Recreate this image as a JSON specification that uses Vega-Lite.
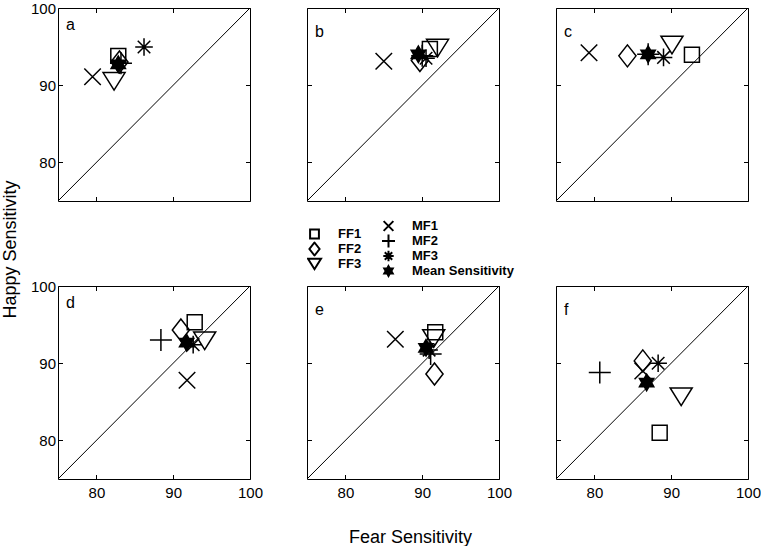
{
  "$schema": "https://vega.github.io/schema/vega-lite/v6.json",
  "padding": {"left": 1, "top": 1, "right": 0, "bottom": 0},
  "data": {"values": [
    {"panel": "a", "group": "FF", "series": "FF1", "fear": 82.85, "happy": 93.8},
    {"panel": "a", "group": "FF", "series": "FF2", "fear": 83.0, "happy": 93.0},
    {"panel": "a", "group": "FF", "series": "FF3", "fear": 82.3, "happy": 90.5},
    {"panel": "a", "group": "MF", "series": "MF1", "fear": 79.5, "happy": 91.1},
    {"panel": "a", "group": "MF", "series": "MF2", "fear": 83.2, "happy": 92.85},
    {"panel": "a", "group": "MF", "series": "MF3", "fear": 86.2, "happy": 94.95},
    {"panel": "a", "group": "MF", "series": "Mean Sensitivity", "fear": 82.85, "happy": 92.7},
    {"panel": "b", "group": "FF", "series": "FF1", "fear": 91.0, "happy": 94.7},
    {"panel": "b", "group": "FF", "series": "FF2", "fear": 89.7, "happy": 93.2},
    {"panel": "b", "group": "FF", "series": "FF3", "fear": 92.0, "happy": 94.8},
    {"panel": "b", "group": "MF", "series": "MF1", "fear": 85.0, "happy": 93.1},
    {"panel": "b", "group": "MF", "series": "MF2", "fear": 90.0, "happy": 93.8},
    {"panel": "b", "group": "MF", "series": "MF3", "fear": 90.5, "happy": 93.5},
    {"panel": "b", "group": "MF", "series": "Mean Sensitivity", "fear": 89.5, "happy": 94.0},
    {"panel": "c", "group": "FF", "series": "FF1", "fear": 92.7, "happy": 93.95},
    {"panel": "c", "group": "FF", "series": "FF2", "fear": 84.3, "happy": 93.8},
    {"panel": "c", "group": "FF", "series": "FF3", "fear": 90.1, "happy": 95.2},
    {"panel": "c", "group": "MF", "series": "MF1", "fear": 79.3, "happy": 94.2},
    {"panel": "c", "group": "MF", "series": "MF2", "fear": 87.0, "happy": 94.0},
    {"panel": "c", "group": "MF", "series": "MF3", "fear": 89.0, "happy": 93.6},
    {"panel": "c", "group": "MF", "series": "Mean Sensitivity", "fear": 87.0, "happy": 94.0},
    {"panel": "d", "group": "FF", "series": "FF1", "fear": 92.8, "happy": 95.3},
    {"panel": "d", "group": "FF", "series": "FF2", "fear": 91.0, "happy": 94.3},
    {"panel": "d", "group": "FF", "series": "FF3", "fear": 94.1, "happy": 92.9},
    {"panel": "d", "group": "MF", "series": "MF1", "fear": 91.8, "happy": 87.8},
    {"panel": "d", "group": "MF", "series": "MF2", "fear": 88.4, "happy": 93.0},
    {"panel": "d", "group": "MF", "series": "MF3", "fear": 92.6, "happy": 92.4},
    {"panel": "d", "group": "MF", "series": "Mean Sensitivity", "fear": 91.75, "happy": 92.65},
    {"panel": "e", "group": "FF", "series": "FF1", "fear": 91.7, "happy": 94.0},
    {"panel": "e", "group": "FF", "series": "FF2", "fear": 91.6, "happy": 88.6},
    {"panel": "e", "group": "FF", "series": "FF3", "fear": 91.5, "happy": 93.2},
    {"panel": "e", "group": "MF", "series": "MF1", "fear": 86.5, "happy": 93.1},
    {"panel": "e", "group": "MF", "series": "MF2", "fear": 91.1, "happy": 91.2},
    {"panel": "e", "group": "MF", "series": "MF3", "fear": 90.9, "happy": 91.7},
    {"panel": "e", "group": "MF", "series": "Mean Sensitivity", "fear": 90.5, "happy": 92.0},
    {"panel": "f", "group": "FF", "series": "FF1", "fear": 88.5, "happy": 81.0},
    {"panel": "f", "group": "FF", "series": "FF2", "fear": 86.3, "happy": 90.3},
    {"panel": "f", "group": "FF", "series": "FF3", "fear": 91.3, "happy": 85.65},
    {"panel": "f", "group": "MF", "series": "MF1", "fear": 86.3, "happy": 89.0},
    {"panel": "f", "group": "MF", "series": "MF2", "fear": 80.7, "happy": 88.8},
    {"panel": "f", "group": "MF", "series": "MF3", "fear": 88.3, "happy": 90.0},
    {"panel": "f", "group": "MF", "series": "Mean Sensitivity", "fear": 86.8, "happy": 87.5}
  ]},
  "columns": 3,
  "spacing": {"row": 85, "column": 57},
  "bounds": "flush",
  "resolve": {"scale": {"shape": "independent", "fill": "independent"}},
  "concat": [
    {
      "title": {"text": "a"}, "width": 192, "height": 193,
      "resolve": {"scale": {"shape": "independent", "fill": "independent"}},
      "layer": [
        {"transform": [{"filter": "datum.panel == 'a' && datum.series == 'Mean Sensitivity'"}],
         "mark": {"type": "rule", "stroke": "black", "strokeWidth": 1},
         "encoding": {
           "x": {"datum": 75, "type": "quantitative", "scale": {"domain": [75, 100], "nice": false, "zero": false}, "axis": {"orient": "top", "labels": false, "title": null}},
           "y": {"datum": 75, "type": "quantitative", "scale": {"domain": [75, 100], "nice": false, "zero": false}, "axis": {"orient": "right", "labels": false, "title": null}},
           "x2": {"datum": 100}, "y2": {"datum": 100}}},
        {"transform": [{"filter": "datum.panel == 'a' && datum.group == 'FF'"}],
         "mark": {"type": "point", "filled": false, "stroke": "black", "strokeWidth": 1.5, "size": 484, "opacity": 1},
         "encoding": {
           "x": {"field": "fear", "type": "quantitative", "axis": {"orient": "bottom", "labels": false, "title": null}},
           "y": {"field": "happy", "type": "quantitative", "axis": {"orient": "left", "title": "Happy Sensitivity", "titleX": -43, "titleY": 241, "titleBaseline": "alphabetic", "titleAngle": -90}},
           "shape": {"field": "series", "type": "nominal", "scale": {"domain": ["FF1", "FF2", "FF3"], "range": ["M-0.68,-0.68L0.68,-0.68L0.68,0.68L-0.68,0.68Z", "M0,-1L0.78,0L0,1L-0.78,0Z", "M-1,-0.8L1,-0.8L0,0.8Z"]}, "legend": null}}},
        {"transform": [{"filter": "datum.panel == 'a' && datum.group == 'MF'"}],
         "mark": {"type": "point", "filled": false, "stroke": "black", "strokeWidth": 1.5, "size": 484, "opacity": 1},
         "encoding": {
           "x": {"field": "fear", "type": "quantitative", "axis": null},
           "y": {"field": "happy", "type": "quantitative", "axis": null},
           "shape": {"field": "series", "type": "nominal", "scale": {"domain": ["MF1", "MF2", "MF3", "Mean Sensitivity"], "range": ["M-0.75,-0.75L0.75,0.75M-0.75,0.75L0.75,-0.75", "M-1,0L1,0M0,-1L0,1", "M-0.8,0L0.8,0M0,-0.8L0,0.8M-0.57,-0.57L0.57,0.57M-0.57,0.57L0.57,-0.57", "M0,-0.75L0.2165,-0.375L0.65,-0.375L0.433,0L0.65,0.375L0.2165,0.375L0,0.75L-0.2165,0.375L-0.65,0.375L-0.433,0L-0.65,-0.375L-0.2165,-0.375Z"]}, "legend": null},
           "fill": {"field": "series", "type": "nominal", "scale": {"domain": ["MF1", "MF2", "MF3", "Mean Sensitivity"], "range": ["transparent", "transparent", "transparent", "black"]}, "legend": null}}}
      ]
    },
    {
      "title": {"text": "b"}, "width": 192, "height": 193,
      "resolve": {"scale": {"shape": "independent", "fill": "independent"}},
      "layer": [
        {"transform": [{"filter": "datum.panel == 'b' && datum.series == 'Mean Sensitivity'"}],
         "mark": {"type": "rule", "stroke": "black", "strokeWidth": 1},
         "encoding": {
           "x": {"datum": 75, "type": "quantitative", "scale": {"domain": [75, 100], "nice": false, "zero": false}, "axis": {"orient": "top", "labels": false, "title": null}},
           "y": {"datum": 75, "type": "quantitative", "scale": {"domain": [75, 100], "nice": false, "zero": false}, "axis": {"orient": "right", "labels": false, "title": null}},
           "x2": {"datum": 100}, "y2": {"datum": 100}}},
        {"transform": [{"filter": "datum.panel == 'b' && datum.group == 'FF'"}],
         "mark": {"type": "point", "filled": false, "stroke": "black", "strokeWidth": 1.5, "size": 484, "opacity": 1},
         "encoding": {
           "x": {"field": "fear", "type": "quantitative", "axis": {"orient": "bottom", "labels": false, "title": null}},
           "y": {"field": "happy", "type": "quantitative", "axis": {"orient": "left", "labels": false, "title": null}},
           "shape": {"field": "series", "type": "nominal", "scale": {"domain": ["FF1", "FF2", "FF3"], "range": ["M-0.68,-0.68L0.68,-0.68L0.68,0.68L-0.68,0.68Z", "M0,-1L0.78,0L0,1L-0.78,0Z", "M-1,-0.8L1,-0.8L0,0.8Z"]}, "legend": {"orient": "none", "legendX": 0, "legendY": 218.5, "title": null, "symbolSize": 169, "rowPadding": 0, "clipHeight": 15, "labelFontWeight": "bold", "encoding": {"symbols": {"size": {"value": 169}, "stroke": {"value": "black"}, "strokeWidth": {"value": 2}}}}}}},
        {"transform": [{"filter": "datum.panel == 'b' && datum.group == 'MF'"}],
         "mark": {"type": "point", "filled": false, "stroke": "black", "strokeWidth": 1.5, "size": 484, "opacity": 1},
         "encoding": {
           "x": {"field": "fear", "type": "quantitative", "axis": null},
           "y": {"field": "happy", "type": "quantitative", "axis": null},
           "shape": {"field": "series", "type": "nominal", "scale": {"domain": ["MF1", "MF2", "MF3", "Mean Sensitivity"], "range": ["M-0.75,-0.75L0.75,0.75M-0.75,0.75L0.75,-0.75", "M-1,0L1,0M0,-1L0,1", "M-0.8,0L0.8,0M0,-0.8L0,0.8M-0.57,-0.57L0.57,0.57M-0.57,0.57L0.57,-0.57", "M0,-0.75L0.2165,-0.375L0.65,-0.375L0.433,0L0.65,0.375L0.2165,0.375L0,0.75L-0.2165,0.375L-0.65,0.375L-0.433,0L-0.65,-0.375L-0.2165,-0.375Z"]}, "legend": {"orient": "none", "legendX": 74, "legendY": 210.5, "title": null, "symbolSize": 169, "rowPadding": 0, "clipHeight": 15, "labelFontWeight": "bold", "encoding": {"symbols": {"size": {"value": 169}, "stroke": {"value": "black"}, "strokeWidth": {"value": 2}}}}},
           "fill": {"field": "series", "type": "nominal", "scale": {"domain": ["MF1", "MF2", "MF3", "Mean Sensitivity"], "range": ["transparent", "transparent", "transparent", "black"]}, "legend": {"orient": "none", "legendX": 74, "legendY": 210.5, "title": null, "symbolSize": 169, "rowPadding": 0, "clipHeight": 15, "labelFontWeight": "bold", "encoding": {"symbols": {"size": {"value": 169}, "stroke": {"value": "black"}, "strokeWidth": {"value": 2}}}}}}}
      ]
    },
    {
      "title": {"text": "c"}, "width": 192, "height": 193,
      "resolve": {"scale": {"shape": "independent", "fill": "independent"}},
      "layer": [
        {"transform": [{"filter": "datum.panel == 'c' && datum.series == 'Mean Sensitivity'"}],
         "mark": {"type": "rule", "stroke": "black", "strokeWidth": 1},
         "encoding": {
           "x": {"datum": 75, "type": "quantitative", "scale": {"domain": [75, 100], "nice": false, "zero": false}, "axis": {"orient": "top", "labels": false, "title": null}},
           "y": {"datum": 75, "type": "quantitative", "scale": {"domain": [75, 100], "nice": false, "zero": false}, "axis": {"orient": "right", "labels": false, "title": null}},
           "x2": {"datum": 100}, "y2": {"datum": 100}}},
        {"transform": [{"filter": "datum.panel == 'c' && datum.group == 'FF'"}],
         "mark": {"type": "point", "filled": false, "stroke": "black", "strokeWidth": 1.5, "size": 484, "opacity": 1},
         "encoding": {
           "x": {"field": "fear", "type": "quantitative", "axis": {"orient": "bottom", "labels": false, "title": null}},
           "y": {"field": "happy", "type": "quantitative", "axis": {"orient": "left", "labels": false, "title": null}},
           "shape": {"field": "series", "type": "nominal", "scale": {"domain": ["FF1", "FF2", "FF3"], "range": ["M-0.68,-0.68L0.68,-0.68L0.68,0.68L-0.68,0.68Z", "M0,-1L0.78,0L0,1L-0.78,0Z", "M-1,-0.8L1,-0.8L0,0.8Z"]}, "legend": null}}},
        {"transform": [{"filter": "datum.panel == 'c' && datum.group == 'MF'"}],
         "mark": {"type": "point", "filled": false, "stroke": "black", "strokeWidth": 1.5, "size": 484, "opacity": 1},
         "encoding": {
           "x": {"field": "fear", "type": "quantitative", "axis": null},
           "y": {"field": "happy", "type": "quantitative", "axis": null},
           "shape": {"field": "series", "type": "nominal", "scale": {"domain": ["MF1", "MF2", "MF3", "Mean Sensitivity"], "range": ["M-0.75,-0.75L0.75,0.75M-0.75,0.75L0.75,-0.75", "M-1,0L1,0M0,-1L0,1", "M-0.8,0L0.8,0M0,-0.8L0,0.8M-0.57,-0.57L0.57,0.57M-0.57,0.57L0.57,-0.57", "M0,-0.75L0.2165,-0.375L0.65,-0.375L0.433,0L0.65,0.375L0.2165,0.375L0,0.75L-0.2165,0.375L-0.65,0.375L-0.433,0L-0.65,-0.375L-0.2165,-0.375Z"]}, "legend": null},
           "fill": {"field": "series", "type": "nominal", "scale": {"domain": ["MF1", "MF2", "MF3", "Mean Sensitivity"], "range": ["transparent", "transparent", "transparent", "black"]}, "legend": null}}}
      ]
    },
    {
      "title": {"text": "d"}, "width": 192, "height": 193,
      "resolve": {"scale": {"shape": "independent", "fill": "independent"}},
      "layer": [
        {"transform": [{"filter": "datum.panel == 'd' && datum.series == 'Mean Sensitivity'"}],
         "mark": {"type": "rule", "stroke": "black", "strokeWidth": 1},
         "encoding": {
           "x": {"datum": 75, "type": "quantitative", "scale": {"domain": [75, 100], "nice": false, "zero": false}, "axis": {"orient": "top", "labels": false, "title": null}},
           "y": {"datum": 75, "type": "quantitative", "scale": {"domain": [75, 100], "nice": false, "zero": false}, "axis": {"orient": "right", "labels": false, "title": null}},
           "x2": {"datum": 100}, "y2": {"datum": 100}}},
        {"transform": [{"filter": "datum.panel == 'd' && datum.group == 'FF'"}],
         "mark": {"type": "point", "filled": false, "stroke": "black", "strokeWidth": 1.5, "size": 484, "opacity": 1},
         "encoding": {
           "x": {"field": "fear", "type": "quantitative", "axis": {"orient": "bottom", "title": null}},
           "y": {"field": "happy", "type": "quantitative", "axis": {"orient": "left", "title": null}},
           "shape": {"field": "series", "type": "nominal", "scale": {"domain": ["FF1", "FF2", "FF3"], "range": ["M-0.68,-0.68L0.68,-0.68L0.68,0.68L-0.68,0.68Z", "M0,-1L0.78,0L0,1L-0.78,0Z", "M-1,-0.8L1,-0.8L0,0.8Z"]}, "legend": null}}},
        {"transform": [{"filter": "datum.panel == 'd' && datum.group == 'MF'"}],
         "mark": {"type": "point", "filled": false, "stroke": "black", "strokeWidth": 1.5, "size": 484, "opacity": 1},
         "encoding": {
           "x": {"field": "fear", "type": "quantitative", "axis": null},
           "y": {"field": "happy", "type": "quantitative", "axis": null},
           "shape": {"field": "series", "type": "nominal", "scale": {"domain": ["MF1", "MF2", "MF3", "Mean Sensitivity"], "range": ["M-0.75,-0.75L0.75,0.75M-0.75,0.75L0.75,-0.75", "M-1,0L1,0M0,-1L0,1", "M-0.8,0L0.8,0M0,-0.8L0,0.8M-0.57,-0.57L0.57,0.57M-0.57,0.57L0.57,-0.57", "M0,-0.75L0.2165,-0.375L0.65,-0.375L0.433,0L0.65,0.375L0.2165,0.375L0,0.75L-0.2165,0.375L-0.65,0.375L-0.433,0L-0.65,-0.375L-0.2165,-0.375Z"]}, "legend": null},
           "fill": {"field": "series", "type": "nominal", "scale": {"domain": ["MF1", "MF2", "MF3", "Mean Sensitivity"], "range": ["transparent", "transparent", "transparent", "black"]}, "legend": null}}}
      ]
    },
    {
      "title": {"text": "e"}, "width": 192, "height": 193,
      "resolve": {"scale": {"shape": "independent", "fill": "independent"}},
      "layer": [
        {"transform": [{"filter": "datum.panel == 'e' && datum.series == 'Mean Sensitivity'"}],
         "mark": {"type": "rule", "stroke": "black", "strokeWidth": 1},
         "encoding": {
           "x": {"datum": 75, "type": "quantitative", "scale": {"domain": [75, 100], "nice": false, "zero": false}, "axis": {"orient": "top", "labels": false, "title": null}},
           "y": {"datum": 75, "type": "quantitative", "scale": {"domain": [75, 100], "nice": false, "zero": false}, "axis": {"orient": "right", "labels": false, "title": null}},
           "x2": {"datum": 100}, "y2": {"datum": 100}}},
        {"transform": [{"filter": "datum.panel == 'e' && datum.group == 'FF'"}],
         "mark": {"type": "point", "filled": false, "stroke": "black", "strokeWidth": 1.5, "size": 484, "opacity": 1},
         "encoding": {
           "x": {"field": "fear", "type": "quantitative", "axis": {"orient": "bottom", "title": "Fear Sensitivity", "titleX": 103, "titleY": 63.5, "titleBaseline": "alphabetic"}},
           "y": {"field": "happy", "type": "quantitative", "axis": {"orient": "left", "labels": false, "title": null}},
           "shape": {"field": "series", "type": "nominal", "scale": {"domain": ["FF1", "FF2", "FF3"], "range": ["M-0.68,-0.68L0.68,-0.68L0.68,0.68L-0.68,0.68Z", "M0,-1L0.78,0L0,1L-0.78,0Z", "M-1,-0.8L1,-0.8L0,0.8Z"]}, "legend": null}}},
        {"transform": [{"filter": "datum.panel == 'e' && datum.group == 'MF'"}],
         "mark": {"type": "point", "filled": false, "stroke": "black", "strokeWidth": 1.5, "size": 484, "opacity": 1},
         "encoding": {
           "x": {"field": "fear", "type": "quantitative", "axis": null},
           "y": {"field": "happy", "type": "quantitative", "axis": null},
           "shape": {"field": "series", "type": "nominal", "scale": {"domain": ["MF1", "MF2", "MF3", "Mean Sensitivity"], "range": ["M-0.75,-0.75L0.75,0.75M-0.75,0.75L0.75,-0.75", "M-1,0L1,0M0,-1L0,1", "M-0.8,0L0.8,0M0,-0.8L0,0.8M-0.57,-0.57L0.57,0.57M-0.57,0.57L0.57,-0.57", "M0,-0.75L0.2165,-0.375L0.65,-0.375L0.433,0L0.65,0.375L0.2165,0.375L0,0.75L-0.2165,0.375L-0.65,0.375L-0.433,0L-0.65,-0.375L-0.2165,-0.375Z"]}, "legend": null},
           "fill": {"field": "series", "type": "nominal", "scale": {"domain": ["MF1", "MF2", "MF3", "Mean Sensitivity"], "range": ["transparent", "transparent", "transparent", "black"]}, "legend": null}}}
      ]
    },
    {
      "title": {"text": "f"}, "width": 192, "height": 193,
      "resolve": {"scale": {"shape": "independent", "fill": "independent"}},
      "layer": [
        {"transform": [{"filter": "datum.panel == 'f' && datum.series == 'Mean Sensitivity'"}],
         "mark": {"type": "rule", "stroke": "black", "strokeWidth": 1},
         "encoding": {
           "x": {"datum": 75, "type": "quantitative", "scale": {"domain": [75, 100], "nice": false, "zero": false}, "axis": {"orient": "top", "labels": false, "title": null}},
           "y": {"datum": 75, "type": "quantitative", "scale": {"domain": [75, 100], "nice": false, "zero": false}, "axis": {"orient": "right", "labels": false, "title": null}},
           "x2": {"datum": 100}, "y2": {"datum": 100}}},
        {"transform": [{"filter": "datum.panel == 'f' && datum.group == 'FF'"}],
         "mark": {"type": "point", "filled": false, "stroke": "black", "strokeWidth": 1.5, "size": 484, "opacity": 1},
         "encoding": {
           "x": {"field": "fear", "type": "quantitative", "axis": {"orient": "bottom", "title": null}},
           "y": {"field": "happy", "type": "quantitative", "axis": {"orient": "left", "labels": false, "title": null}},
           "shape": {"field": "series", "type": "nominal", "scale": {"domain": ["FF1", "FF2", "FF3"], "range": ["M-0.68,-0.68L0.68,-0.68L0.68,0.68L-0.68,0.68Z", "M0,-1L0.78,0L0,1L-0.78,0Z", "M-1,-0.8L1,-0.8L0,0.8Z"]}, "legend": null}}},
        {"transform": [{"filter": "datum.panel == 'f' && datum.group == 'MF'"}],
         "mark": {"type": "point", "filled": false, "stroke": "black", "strokeWidth": 1.5, "size": 484, "opacity": 1},
         "encoding": {
           "x": {"field": "fear", "type": "quantitative", "axis": null},
           "y": {"field": "happy", "type": "quantitative", "axis": null},
           "shape": {"field": "series", "type": "nominal", "scale": {"domain": ["MF1", "MF2", "MF3", "Mean Sensitivity"], "range": ["M-0.75,-0.75L0.75,0.75M-0.75,0.75L0.75,-0.75", "M-1,0L1,0M0,-1L0,1", "M-0.8,0L0.8,0M0,-0.8L0,0.8M-0.57,-0.57L0.57,0.57M-0.57,0.57L0.57,-0.57", "M0,-0.75L0.2165,-0.375L0.65,-0.375L0.433,0L0.65,0.375L0.2165,0.375L0,0.75L-0.2165,0.375L-0.65,0.375L-0.433,0L-0.65,-0.375L-0.2165,-0.375Z"]}, "legend": null},
           "fill": {"field": "series", "type": "nominal", "scale": {"domain": ["MF1", "MF2", "MF3", "Mean Sensitivity"], "range": ["transparent", "transparent", "transparent", "black"]}, "legend": null}}}
      ]
    }
  ],
  "config": {
    "view": {"stroke": null},
    "font": "Liberation Sans",
    "axis": {"domainColor": "black", "domainWidth": 1, "tickColor": "black", "tickWidth": 1, "tickSize": -4.5, "tickCount": 3, "grid": false, "labelFont": "Liberation Sans", "labelFontSize": 15, "labelColor": "black", "labelFlush": false, "labelOverlap": false, "titleFont": "Liberation Sans", "titleFontSize": 18, "titleFontWeight": "normal", "titleColor": "black"},
    "axisX": {"labelPadding": 11},
    "axisY": {"labelPadding": 7},
    "title": {"anchor": "start", "frame": "group", "fontSize": 16, "fontWeight": "normal", "font": "Liberation Sans", "color": "black", "offset": -32, "dx": 8, "baseline": "alphabetic"},
    "legend": {"labelFont": "Liberation Sans", "labelFontSize": 13, "labelColor": "black", "symbolSize": 169, "symbolStrokeWidth": 2, "symbolStrokeColor": "black", "labelOffset": 16, "padding": 0, "rowPadding": 0}
  }
}
